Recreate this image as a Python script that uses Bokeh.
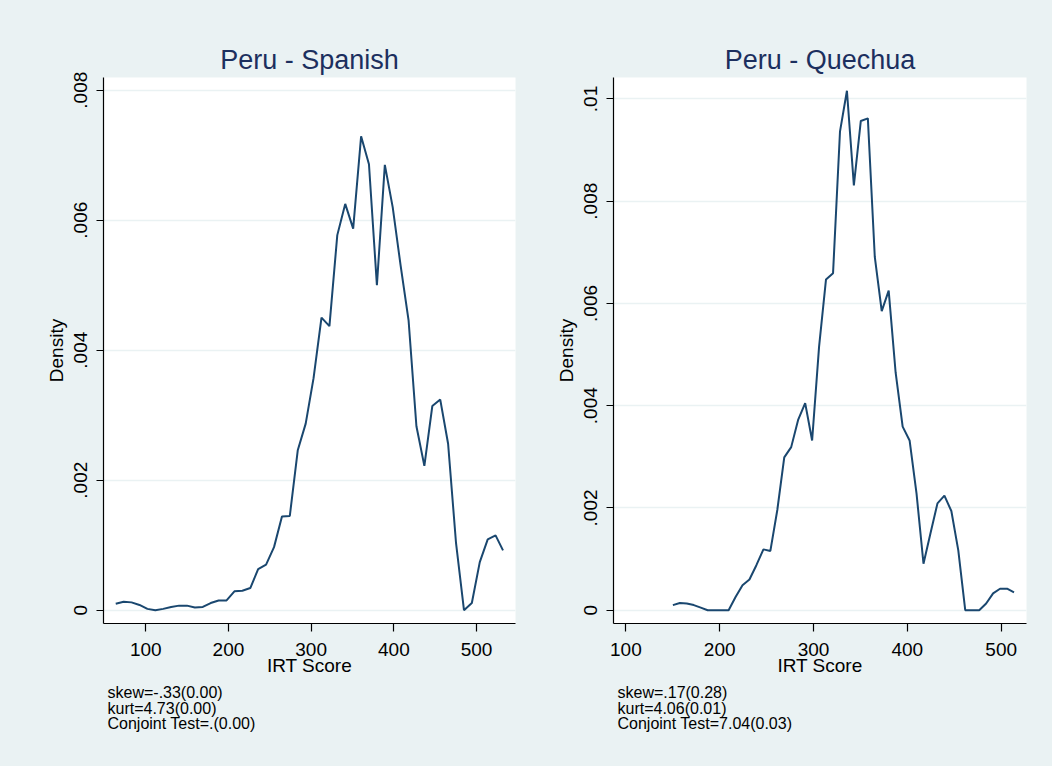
from bokeh.plotting import figure
from bokeh.models import Range1d, FixedTicker, Title
from bokeh.layouts import row
from bokeh.embed import file_html
from bokeh.resources import INLINE

# ---------------- data ----------------
spanish_x = [63.7, 73.3, 82.8, 92.4, 102.0, 111.6, 121.1, 130.7, 140.3, 149.8,
             159.4, 169.0, 178.5, 188.1, 197.7, 207.2, 216.8, 226.4, 235.9, 245.5,
             255.1, 264.7, 274.2, 283.8, 293.4, 302.9, 312.5, 322.1, 331.6, 341.2,
             350.8, 360.4, 369.9, 379.5, 389.1, 398.6, 408.2, 417.8, 427.3, 436.9,
             446.5, 456.1, 465.6, 475.2, 484.8, 494.3, 503.9, 513.5, 523.0, 532.0]
spanish_density = [0.00010, 0.00013, 0.00012, 0.00008, 0.00002, 0.00000, 0.00002, 0.00005, 0.00007, 0.00007,
                   0.00004, 0.00005, 0.00011, 0.00015, 0.00015, 0.00029, 0.00030, 0.00034, 0.00063, 0.00070,
                   0.00097, 0.00144, 0.00145, 0.00246, 0.00287, 0.00357, 0.00450, 0.00437, 0.00577, 0.00625,
                   0.00587, 0.00729, 0.00686, 0.00500, 0.00685, 0.00620, 0.00530, 0.00446, 0.00283, 0.00222,
                   0.00314, 0.00324, 0.00256, 0.00103, 0.00000, 0.00011, 0.00074, 0.00109, 0.00115, 0.00092]

quechua_x = [150.1, 157.5, 164.9, 172.4, 179.8, 187.2, 194.6, 202.0, 209.5, 216.9,
             224.3, 231.7, 239.1, 246.6, 254.0, 261.4, 268.8, 276.2, 283.7, 291.1,
             298.5, 305.9, 313.3, 320.8, 328.2, 335.6, 343.0, 350.4, 357.9, 365.3,
             372.7, 380.1, 387.5, 395.0, 402.4, 409.8, 417.2, 424.6, 432.1, 439.5,
             446.9, 454.3, 461.7, 469.2, 476.6, 484.0, 491.4, 498.8, 506.3, 513.7]
quechua_density = [0.00010, 0.00014, 0.00013, 0.00010, 0.00005, 0.00000, 0.00000, 0.00000, 0.00000, 0.00026,
                   0.00049, 0.00060, 0.00088, 0.00119, 0.00116, 0.00196, 0.00299, 0.00319, 0.00373, 0.00405,
                   0.00332, 0.00515, 0.00647, 0.00659, 0.00936, 0.01016, 0.00831, 0.00957, 0.00962, 0.00691,
                   0.00585, 0.00625, 0.00465, 0.00359, 0.00332, 0.00228, 0.00091, 0.00150, 0.00209, 0.00224,
                   0.00194, 0.00117, 0.00000, 0.00000, 0.00000, 0.00013, 0.00033, 0.00042, 0.00042, 0.00035]

x_ticks = [100, 200, 300, 400, 500]
spanish_y_ticks = [0, 0.002, 0.004, 0.006, 0.008]
spanish_y_labels = ["0", ".002", ".004", ".006", ".008"]
quechua_y_ticks = [0, 0.002, 0.004, 0.006, 0.008, 0.01]
quechua_y_labels = ["0", ".002", ".004", ".006", ".008", ".01"]

titles = ["Peru - Spanish", "Peru - Quechua"]
notes = [["skew=-.33(0.00)", "kurt=4.73(0.00)", "Conjoint Test=.(0.00)"],
         ["skew=.17(0.28)", "kurt=4.06(0.01)", "Conjoint Test=7.04(0.03)"]]

# ---------------- styling ----------------
BG = "#EAF2F3"
LINE = "#1A476F"
TITLE_C = "#1C2F5E"
FONT = "Liberation Sans"
FRAME_H = 546
TOTAL_H = 766
TOP = 77


def make_panel(title, xs, ys, x_range, y_range, yt, yl, note_lines,
               frame_w, border_left, border_right):
    p = figure(width=border_left + frame_w + border_right, height=TOTAL_H,
               frame_width=frame_w, frame_height=FRAME_H,
               x_range=Range1d(*x_range), y_range=Range1d(*y_range),
               output_backend="svg", toolbar_location=None,
               min_border_left=border_left, min_border_right=border_right,
               min_border_top=TOP, min_border_bottom=TOTAL_H - TOP - FRAME_H)
    p.border_fill_color = BG
    p.background_fill_color = "white"
    p.outline_line_color = None

    p.title = Title(text=title, align="center", text_font=FONT, text_font_size="27px",
                    text_font_style="normal", text_color=TITLE_C, standoff=6)

    p.line(xs, ys, line_color=LINE, line_width=2)

    # x axis
    xa = p.xaxis[0]
    xa.ticker = FixedTicker(ticks=x_ticks)
    xa.axis_label = "IRT Score"
    xa.axis_label_text_font = FONT
    xa.axis_label_text_font_size = "19px"
    xa.axis_label_text_font_style = "normal"
    xa.axis_label_text_color = "black"
    xa.axis_label_standoff = -4
    xa.major_label_text_font = FONT
    xa.major_label_text_font_size = "19px"
    xa.major_label_text_color = "black"
    xa.major_label_standoff = 11
    xa.major_tick_out = 8
    xa.major_tick_in = 0
    xa.minor_tick_out = 0
    xa.minor_tick_in = 0
    xa.axis_line_color = "black"
    xa.axis_line_width = 1.2
    xa.major_tick_line_color = "black"
    xa.major_tick_line_width = 1.2

    # y axis
    ya = p.yaxis[0]
    ya.ticker = FixedTicker(ticks=yt)
    ya.major_label_overrides = {t: l for t, l in zip(yt, yl)}
    ya.major_label_orientation = "vertical"
    ya.axis_label = "Density"
    ya.axis_label_text_font = FONT
    ya.axis_label_text_font_size = "19px"
    ya.axis_label_text_font_style = "normal"
    ya.axis_label_text_color = "black"
    ya.axis_label_standoff = 5
    ya.major_label_text_font = FONT
    ya.major_label_text_font_size = "19px"
    ya.major_label_text_color = "black"
    ya.major_label_standoff = 9
    ya.major_tick_out = 7
    ya.major_tick_in = 0
    ya.minor_tick_out = 0
    ya.minor_tick_in = 0
    ya.axis_line_color = "black"
    ya.axis_line_width = 1.2
    ya.major_tick_line_color = "black"
    ya.major_tick_line_width = 1.2

    p.xgrid.visible = False
    p.ygrid.grid_line_color = BG
    p.ygrid.grid_line_width = 1.5

    # notes below the x-axis title
    p.add_layout(Title(text="\n".join(note_lines), align="left", offset=4, standoff=7,
                       text_font=FONT, text_font_size="16px", text_font_style="normal",
                       text_color="black", text_line_height=0.91), "below")
    return p


p1 = make_panel(titles[0], spanish_x, spanish_density, (48.9, 547.1), (-0.000205, 0.008195),
                spanish_y_ticks, spanish_y_labels, notes[0],
                frame_w=412, border_left=103, border_right=25)
p2 = make_panel(titles[1], quechua_x, quechua_density, (86.8, 527.0), (-0.00026, 0.01042),
                quechua_y_ticks, quechua_y_labels, notes[1],
                frame_w=413, border_left=73, border_right=26)

p = row(p1, p2, spacing=0, styles={"background-color": BG})
open("out.html", "w").write(file_html(p, INLINE))
